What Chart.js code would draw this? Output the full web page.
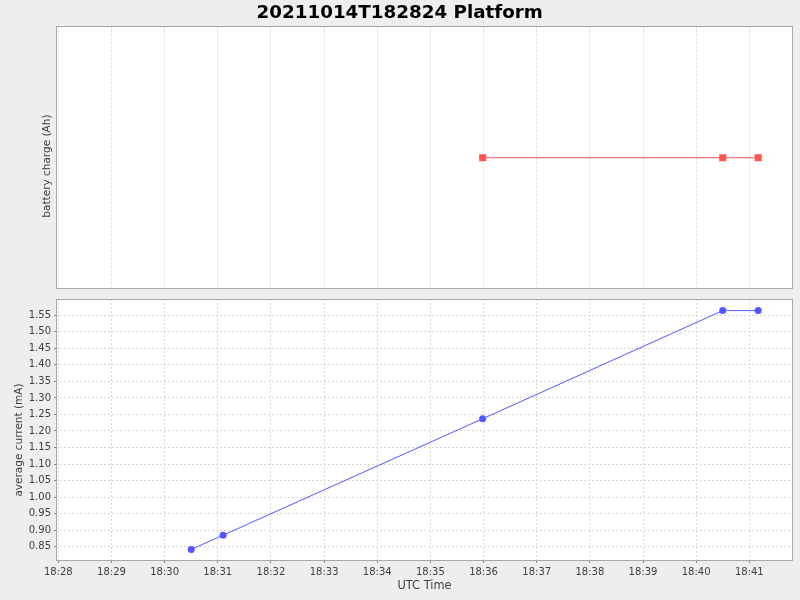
<!DOCTYPE html>
<html>
<head>
<meta charset="utf-8">
<title>20211014T182824 Platform</title>
<script src="https://cdn.jsdelivr.net/npm/chart.js@4.4.0/dist/chart.umd.min.js"></script>
<style>
  html, body { margin: 0; padding: 0; background: #eeeeee; }
  #wrap { position: relative; width: 800px; height: 600px; }
  #chargeChart { position: absolute; left: 0; top: 0; }
  #currentChart { position: absolute; left: 0; top: 290px; }
</style>
</head>
<body>
<div id="wrap">
  <canvas id="chargeChart" width="800" height="290"></canvas>
  <canvas id="currentChart" width="800" height="310"></canvas>
</div>
<script>
// Data (times are UTC)
const currentTimes = ['18:30:30', '18:31:06', '18:35:59', '18:40:30', '18:41:10'];
const currentValues = [0.842, 0.885, 1.237, 1.564, 1.564];

const chargeTimes = ['18:35:59', '18:40:30', '18:41:10'];
const chargeValues = [0, 0, 0];

const timeTicks = ['18:28', '18:29', '18:30', '18:31', '18:32', '18:33', '18:34',
                   '18:35', '18:36', '18:37', '18:38', '18:39', '18:40', '18:41'];
const currentTicks = ['0.85', '0.90', '0.95', '1.00', '1.05', '1.10', '1.15', '1.20',
                      '1.25', '1.30', '1.35', '1.40', '1.45', '1.50', '1.55'];

const timeRange = ['18:27:57.4', '18:41:49.3'];
const currentRange = [0.807, 1.599];
const chargeRange = [-1, 1];

function toSec(t) {
  const p = t.split(':').map(Number);
  return p[0] * 3600 + p[1] * 60 + (p[2] || 0);
}

function fmtTime(sec) {
  const h = Math.floor(sec / 3600);
  const m = Math.round((sec % 3600) / 60);
  return h + ':' + String(m).padStart(2, '0');
}

Chart.defaults.font.family = "'DejaVu Sans', sans-serif";
Chart.defaults.color = '#404040';

const GRID = '#d8d8d8';
const FRAME = '#a8a8a8';

// white plot background and grey outline like the original plot
const plotFrame = {
  id: 'plotFrame',
  beforeDraw(chart) {
    const a = chart.chartArea;
    const c = chart.ctx;
    c.save();
    c.fillStyle = '#ffffff';
    c.fillRect(a.left, a.top, a.right - a.left, a.bottom - a.top);
    c.restore();
  },
  afterDraw(chart) {
    const a = chart.chartArea;
    const c = chart.ctx;
    c.save();
    c.strokeStyle = FRAME;
    c.lineWidth = 1;
    c.strokeRect(Math.round(a.left) + 0.5, Math.round(a.top) + 0.5,
                 Math.round(a.right - a.left) - 1, Math.round(a.bottom - a.top) - 1);
    c.restore();
  }
};

function timeAxis(showLabels) {
  return {
    type: 'linear',
    bounds: 'data',
    min: toSec(timeRange[0]),
    max: toSec(timeRange[1]),
    afterBuildTicks: scale => {
      scale.ticks = timeTicks.map(t => ({ value: toSec(t) }));
    },
    afterFit: scale => { scale.height = showLabels ? 39 : 1; },
    ticks: {
      display: showLabels,
      autoSkip: false,
      maxRotation: 0,
      padding: 3,
      font: { size: 10 },
      callback: v => fmtTime(v)
    },
    grid: {
      color: GRID,
      drawTicks: showLabels,
      tickLength: 2,
      tickColor: '#888888'
    },
    border: { display: false, dash: [2, 2] },
    title: {
      display: showLabels,
      text: 'UTC Time',
      font: { size: 11.4 },
      padding: { top: 0, bottom: 7 }
    }
  };
}

// top plot: battery charge
new Chart(document.getElementById('chargeChart'), {
  type: 'line',
  data: {
    datasets: [{
      label: 'battery charge',
      data: chargeTimes.map((t, i) => ({ x: toSec(t), y: chargeValues[i] })),
      borderColor: '#ff5555',
      backgroundColor: '#ff5555',
      borderWidth: 1,
      pointStyle: 'rect',
      pointRadius: 5,
      pointBorderWidth: 0,
      pointBackgroundColor: '#ff5555',
      tension: 0
    }]
  },
  options: {
    responsive: false,
    animation: false,
    layout: { autoPadding: false, padding: { left: 0, right: 7, top: 0, bottom: 0 } },
    plugins: {
      legend: { display: false },
      tooltip: { enabled: false },
      title: {
        display: true,
        // leading space re-centres the title on the full page width
        text: ' 20211014T182824 Platform',
        color: '#000000',
        font: { size: 18.3, weight: 'bold' },
        padding: { top: 2, bottom: 2.5 }
      }
    },
    scales: {
      x: timeAxis(false),
      y: {
        min: chargeRange[0],
        max: chargeRange[1],
        afterFit: scale => { scale.width = 56; },
        ticks: { display: false },
        grid: { display: false },
        border: { display: false },
        title: {
          display: true,
          // trailing spaces nudge the label down the way the original sits
          text: 'battery charge (Ah)     ',
          font: { size: 10.5 },
          padding: { top: 41, bottom: 4 }
        }
      }
    }
  },
  plugins: [plotFrame]
});

// bottom plot: average current
new Chart(document.getElementById('currentChart'), {
  type: 'line',
  data: {
    datasets: [{
      label: 'average current',
      data: currentTimes.map((t, i) => ({ x: toSec(t), y: currentValues[i] })),
      borderColor: '#5555ff',
      backgroundColor: '#5555ff',
      borderWidth: 1,
      pointStyle: 'circle',
      pointRadius: 3.5,
      pointBorderWidth: 0,
      pointBackgroundColor: '#5555ff',
      tension: 0
    }]
  },
  options: {
    responsive: false,
    animation: false,
    layout: { autoPadding: false, padding: { left: 0, right: 7, top: 8, bottom: 0 } },
    plugins: {
      legend: { display: false },
      tooltip: { enabled: false }
    },
    scales: {
      x: timeAxis(true),
      y: {
        type: 'linear',
        bounds: 'data',
        min: currentRange[0],
        max: currentRange[1],
        afterBuildTicks: scale => {
          scale.ticks = currentTicks.map(t => ({ value: parseFloat(t) }));
        },
        afterFit: scale => { scale.width = 56; },
        ticks: {
          autoSkip: false,
          padding: 3,
          font: { size: 10 },
          callback: v => v.toFixed(2)
        },
        grid: {
          color: GRID,
          tickLength: 2,
          tickColor: '#888888'
        },
        border: { display: false, dash: [2, 2] },
        title: {
          display: true,
          text: 'average current (mA)      ',
          font: { size: 10.5 },
          padding: { top: 12.5, bottom: 4 }
        }
      }
    }
  },
  plugins: [plotFrame]
});
</script>
</body>
</html>
